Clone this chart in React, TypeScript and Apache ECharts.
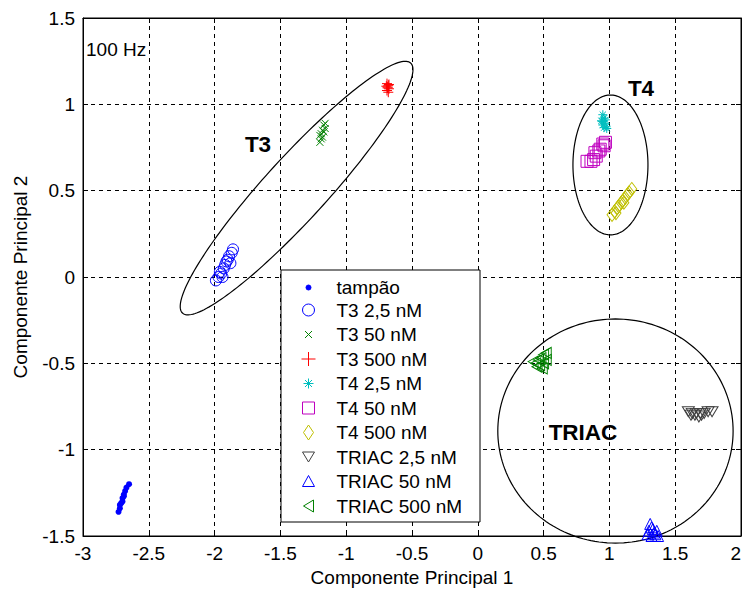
import { useEffect, useRef } from "react";
import * as echarts from "echarts";

// PCA scores (Componente Principal 1, Componente Principal 2) per sample group
const tampao = [
  [-2.73, -1.36], [-2.72, -1.34], [-2.72, -1.32], [-2.71, -1.31], [-2.7, -1.3],
  [-2.7, -1.28], [-2.69, -1.27], [-2.69, -1.26], [-2.68, -1.24], [-2.67, -1.22], [-2.65, -1.2],
];
const t3_2_5 = [
  [-1.99, -0.02], [-1.97, 0.0], [-1.96, 0.03], [-1.95, 0.02], [-1.93, 0.05], [-1.92, 0.07],
  [-1.91, 0.09], [-1.9, 0.1], [-1.89, 0.12], [-1.87, 0.14], [-1.86, 0.16], [-1.88, 0.08], [-1.94, 0.0],
];
const t3_50 = [
  [-1.2, 0.78], [-1.19, 0.8], [-1.18, 0.81], [-1.19, 0.83], [-1.17, 0.84],
  [-1.18, 0.85], [-1.16, 0.86], [-1.17, 0.88], [-1.16, 0.89], [-1.2, 0.82],
];
const t3_500 = [
  [-0.69, 1.08], [-0.685, 1.1], [-0.68, 1.11], [-0.675, 1.09], [-0.69, 1.12],
  [-0.68, 1.07], [-0.695, 1.105], [-0.675, 1.115], [-0.685, 1.095],
];
const t4_2_5 = [
  [0.95, 0.94], [0.96, 0.92], [0.945, 0.9], [0.965, 0.89], [0.95, 0.88],
  [0.975, 0.87], [0.96, 0.865], [0.98, 0.86], [0.97, 0.91], [0.94, 0.905],
];
const t4_50 = [
  [0.83, 0.67], [0.88, 0.68], [0.89, 0.72], [0.92, 0.73], [0.95, 0.77],
  [0.97, 0.78], [0.96, 0.76], [0.93, 0.74], [0.9, 0.7], [0.86, 0.67],
];
const t4_500 = [
  [1.02, 0.36], [1.04, 0.38], [1.06, 0.4], [1.07, 0.41], [1.09, 0.43], [1.1, 0.44],
  [1.12, 0.46], [1.14, 0.48], [1.15, 0.49], [1.17, 0.51], [1.05, 0.37], [1.11, 0.43],
];
const triac_2_5 = [
  [1.6, -0.78], [1.63, -0.79], [1.66, -0.79], [1.69, -0.79], [1.72, -0.79], [1.75, -0.78],
  [1.78, -0.78], [1.65, -0.8], [1.68, -0.81], [1.62, -0.8], [1.7, -0.8],
];
const triac_50 = [
  [1.31, -1.43], [1.32, -1.45], [1.3, -1.47], [1.33, -1.46], [1.34, -1.48],
  [1.29, -1.49], [1.35, -1.49], [1.37, -1.5], [1.32, -1.5], [1.36, -1.47],
];
const triac_500 = [
  [0.42, -0.49], [0.44, -0.5], [0.46, -0.48], [0.48, -0.47], [0.5, -0.45], [0.52, -0.44],
  [0.47, -0.51], [0.45, -0.52], [0.5, -0.5], [0.52, -0.48], [0.49, -0.53],
];

const seriesNames = [
  "tampão", "T3 2,5 nM", "T3 50 nM", "T3 500 nM", "T4 2,5 nM",
  "T4 50 nM", "T4 500 nM", "TRIAC 2,5 nM", "TRIAC 50 nM", "TRIAC 500 nM",
];
const seriesData = [
  tampao, t3_2_5, t3_50, t3_500, t4_2_5, t4_50, t4_500, triac_2_5, triac_50, triac_500,
];

// Group outlines: centre, then two conjugate semi-axis vectors (data units)
const ellipseT3 = [-1.377, 0.515, 0.867, 0.724, 0.174, -0.122];
const ellipseT4 = [1.008, 0.649, 0.285, 0, 0, 0.405];
const ellipseTRIAC = [1.046, -0.892, 0.894, 0, 0, 0.649];

const FONT = "'Liberation Sans', Arial, Helvetica, sans-serif";
const FS = 19;

const BLUE = "#0000ff";
const GREEN = "#008000";
const RED = "#ff0000";
const CYAN = "#00bfbf";
const MAGENTA = "#bf00bf";
const YELLOW = "#bfbf00";
const GREY = "#404040";

type Marker = {
  symbol: string;
  size: number | number[];
  color: string;
  filled: boolean;
  icon: string;
};

// Legend icons live in a padded 20x20 box so they keep their own size
const PAD = "M0 0M20 20";
const markers: Marker[] = [
  {
    symbol: "circle", size: 6, color: BLUE, filled: true,
    icon: `path://${PAD}M12.5 10A2.5 2.5 0 1 1 7.5 10A2.5 2.5 0 1 1 12.5 10Z`,
  },
  {
    symbol: "circle", size: 11, color: BLUE, filled: false,
    icon: `path://${PAD}M16 10A6 6 0 1 1 4 10A6 6 0 1 1 16 10Z`,
  },
  {
    symbol: "path://M0 0L10 10M10 0L0 10", size: 7, color: GREEN, filled: false,
    icon: `path://${PAD}M6.5 6.5L13.5 13.5M13.5 6.5L6.5 13.5`,
  },
  {
    symbol: "path://M5 0L5 10M0 5L10 5", size: 10, color: RED, filled: false,
    icon: `path://${PAD}M10 3L10 17M3 10L17 10`,
  },
  {
    symbol: "path://M5 0L5 10M0 5L10 5M1.5 1.5L8.5 8.5M8.5 1.5L1.5 8.5", size: 9, color: CYAN, filled: false,
    icon: `path://${PAD}M10 5L10 15M5 10L15 10M6.5 6.5L13.5 13.5M13.5 6.5L6.5 13.5`,
  },
  {
    symbol: "rect", size: 12, color: MAGENTA, filled: false,
    icon: `path://${PAD}M4 4L16 4L16 16L4 16Z`,
  },
  {
    symbol: "diamond", size: [10, 13], color: YELLOW, filled: false,
    icon: `path://${PAD}M10 2.5L15 10L10 17.5L5 10Z`,
  },
  {
    symbol: "path://M0 0L10 0L5 9Z", size: [12, 10], color: GREY, filled: false,
    icon: `path://${PAD}M4 5L16 5L10 15Z`,
  },
  {
    symbol: "triangle", size: 11, color: BLUE, filled: false,
    icon: `path://${PAD}M10 4L16 15L4 15Z`,
  },
  {
    symbol: "path://M0 5L9 0L9 10Z", size: [10, 11], color: GREEN, filled: false,
    icon: `path://${PAD}M5 10L15 4L15 16Z`,
  },
];

function ellipseRenderItem(params: any, api: any) {
  const cx = api.value(0);
  const cy = api.value(1);
  const ux = api.value(2);
  const uy = api.value(3);
  const vx = api.value(4);
  const vy = api.value(5);
  const pts: number[][] = [];
  const n = 180;
  for (let i = 0; i < n; i++) {
    const t = (i / n) * Math.PI * 2;
    pts.push(
      api.coord([cx + ux * Math.cos(t) + vx * Math.sin(t), cy + uy * Math.cos(t) + vy * Math.sin(t)])
    );
  }
  return {
    type: "polygon",
    shape: { points: pts },
    style: { fill: "none", stroke: "#000", lineWidth: 1.2 },
    silent: true,
  };
}

export default function App() {
  const ref = useRef<HTMLDivElement>(null);

  useEffect(() => {
    document.body.style.margin = "0";
    if (!ref.current) return;
    const chart = echarts.init(ref.current, null, { renderer: "svg" });

    const scatterSeries = seriesNames.map((name, i) => {
      const m = markers[i];
      return {
        name,
        type: "scatter",
        xAxisIndex: 0,
        yAxisIndex: 0,
        data: seriesData[i],
        symbol: m.symbol,
        symbolSize: m.size,
        z: 3,
        itemStyle: {
          color: m.filled ? m.color : "none",
          borderColor: m.color,
          borderWidth: m.filled ? 0 : 1,
          opacity: 1,
        },
        emphasis: { disabled: true },
      };
    });

    const axisLineStyle = { color: "#000", width: 1 };
    const tickLabel = { color: "#000", fontSize: FS, fontFamily: FONT };
    const boldLabel = { fontSize: 22.5, fontWeight: "bold", fontFamily: FONT, fill: "#000", align: "center", verticalAlign: "middle" };

    chart.setOption({
      animation: false,
      backgroundColor: "#fff",
      grid: {
        left: 83, right: 3, top: 18, bottom: 53,
        outerBoundsMode: "none",
        containLabel: false,
        show: true, borderColor: "#000", borderWidth: 1, backgroundColor: "transparent",
      },
      xAxis: [
        {
          type: "value", min: -3, max: 2, interval: 0.5, position: "bottom",
          axisLine: { show: true, onZero: false, lineStyle: axisLineStyle },
          axisTick: { show: true, inside: true, length: 5, lineStyle: axisLineStyle },
          axisLabel: { ...tickLabel, margin: 8, alignMaxLabel: "right" },
          splitLine: { show: true, lineStyle: { color: "#000", width: 1, type: [4, 4] } },
          name: "Componente Principal 1",
          nameLocation: "middle",
          nameGap: 32,
          nameTextStyle: { ...tickLabel },
        },
        {
          type: "value", min: -3, max: 2, interval: 0.5, position: "top",
          axisLine: { show: true, onZero: false, lineStyle: axisLineStyle },
          axisTick: { show: true, inside: true, length: 5, lineStyle: axisLineStyle },
          axisLabel: { show: false },
          splitLine: { show: false },
        },
      ],
      yAxis: [
        {
          type: "value", min: -1.5, max: 1.5, interval: 0.5, position: "left",
          axisLine: { show: true, onZero: false, lineStyle: axisLineStyle },
          axisTick: { show: true, inside: true, length: 5, lineStyle: axisLineStyle },
          axisLabel: { ...tickLabel, margin: 8 },
          splitLine: { show: true, lineStyle: { color: "#000", width: 1, type: [4, 4] } },
          name: "Componente Principal 2",
          nameLocation: "middle",
          nameGap: 53,
          nameTextStyle: { ...tickLabel },
        },
        {
          type: "value", min: -1.5, max: 1.5, interval: 0.5, position: "right",
          axisLine: { show: true, onZero: false, lineStyle: axisLineStyle },
          axisTick: { show: true, inside: true, length: 5, lineStyle: axisLineStyle },
          axisLabel: { show: false },
          splitLine: { show: false },
        },
      ],
      legend: {
        orient: "vertical",
        left: 292,
        top: 270,
        padding: [7, 0, 0, 4],
        itemWidth: 46,
        itemHeight: 20,
        itemGap: -0.5,
        selectedMode: false,
        z: 6,
        textStyle: { color: "#000", fontSize: FS, lineHeight: 20, fontFamily: FONT },
        itemStyle: { borderWidth: 1 },
        data: seriesNames.map((name, i) => ({ name, icon: markers[i].icon })),
      },
      graphic: [
        {
          type: "rect",
          z: 5,
          shape: { x: 281, y: 270, width: 199, height: 252 },
          style: { fill: "#fff", stroke: "#000", lineWidth: 1 },
        },
        {
          type: "text", x: 86, y: 49, z: 5,
          style: { text: "100 Hz", fontSize: FS, fontFamily: FONT, fill: "#000", align: "left", verticalAlign: "middle" },
        },
        { type: "text", x: 258, y: 144, z: 5, style: { text: "T3", ...boldLabel } },
        { type: "text", x: 641, y: 88, z: 5, style: { text: "T4", ...boldLabel } },
        { type: "text", x: 583, y: 432, z: 5, style: { text: "TRIAC", ...boldLabel } },
      ],
      series: [
        ...scatterSeries,
        {
          type: "custom",
          name: "outline",
          xAxisIndex: 0,
          yAxisIndex: 0,
          renderItem: ellipseRenderItem,
          data: [ellipseT3, ellipseT4, ellipseTRIAC],
          encode: { x: 0, y: 1 },
          clip: false,
          z: 2,
          silent: true,
        },
      ],
    });

    return () => chart.dispose();
  }, []);

  return <div ref={ref} style={{ width: 744, height: 589 }} />;
}
